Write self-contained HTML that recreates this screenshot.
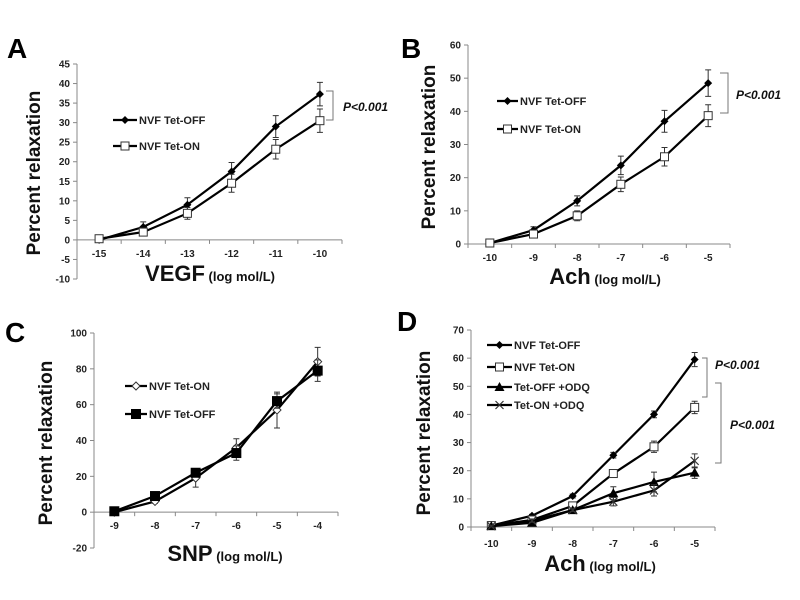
<!DOCTYPE html>
<html><head><meta charset="utf-8"><style>
body{margin:0;background:#fff}
svg{display:block;font-family:"Liberation Sans",Arial,sans-serif}
</style></head><body>
<svg id="fig" width="800" height="600" viewBox="0 0 800 600"></svg>
<script>
const xCatsA=["-15","-14","-13","-12","-11","-10"];
const aOff=[0,3.3,9,17.5,29,37.3];
const aOffErr=[0.5,1.3,1.8,2.3,2.8,3];
const aOn=[0.3,2,6.8,14.5,23.2,30.5];
const aOnErr=[0.3,0.5,1.5,2.3,2.5,3];
const yTicksA=[-10,-5,0,5,10,15,20,25,30,35,40,45];

const xCatsB=["-10","-9","-8","-7","-6","-5"];
const bOff=[0.3,4.2,13,23.7,37,48.5];
const bOffErr=[0.3,1,1.5,2.8,3.3,4];
const bOn=[0.3,3,8.5,18,26.3,38.7];
const bOnErr=[0.3,0.5,1.5,2.2,2.8,3.3];
const yTicksB=[0,10,20,30,40,50,60];

const xCatsC=["-9","-8","-7","-6","-5","-4"];
const cOn=[0,6,19,36,57,84];
const cOnErr=[0,1,5,5,10,8];
const cOff=[0.5,9,22,33,62,79];
const cOffErr=[0,1,2,4,4,6];
const yTicksC=[-20,0,20,40,60,80,100];

const xCatsD=["-10","-9","-8","-7","-6","-5"];
const dOff=[0.5,4,11,25.5,40,59.5];
const dOffErr=[0.3,0.5,0.7,1,1.2,2.5];
const dOn=[0.5,2.5,7.5,19,28.5,42.5];
const dOnErr=[0.3,0.5,0.5,1,2,2.2];
const dOffOdq=[0.3,1.5,6,12,16,19.3];
const dOffOdqErr=[0.3,0.5,0.5,2.3,3.5,2];
const dOnOdq=[0.3,2.2,6,9,13,23.5];
const dOnOdqErr=[0.3,0.5,0.5,1.5,2,2.5];
const yTicksD=[0,10,20,30,40,50,60,70];

const NS="http://www.w3.org/2000/svg";
const svg=document.getElementById('fig');
function el(tag,attrs,parent,text){const e=document.createElementNS(NS,tag);for(const k in attrs)e.setAttribute(k,attrs[k]);if(text!==undefined)e.textContent=text;(parent||svg).appendChild(e);return e;}

function marker(g,type,x,y){
  let m;
  if(type==='fdiamond'){m=el('polygon',{points:`${x},${y-4} ${x+4},${y} ${x},${y+4} ${x-4},${y}`,fill:'#000'},g);}
  else if(type==='odiamond'){m=el('polygon',{points:`${x},${y-4} ${x+4},${y} ${x},${y+4} ${x-4},${y}`,fill:'#fff',stroke:'#333','stroke-width':1},g);}
  else if(type==='osquare'){m=el('rect',{x:x-4,y:y-4,width:8,height:8,fill:'#fff',stroke:'#333','stroke-width':1},g);}
  else if(type==='fsquare'){m=el('rect',{x:x-5,y:y-5,width:10,height:10,fill:'#000'},g);}
  else if(type==='triangle'){m=el('polygon',{points:`${x},${y-5} ${x+5},${y+4} ${x-5},${y+4}`,fill:'#000'},g);}
  else if(type==='cross'){m=el('path',{d:`M${x-4},${y-4}L${x+4},${y+4}M${x-4},${y+4}L${x+4},${y-4}`,stroke:'#333','stroke-width':1.2,fill:'none'},g);}
  
  
  return m;
}

function panel(o){
  const g=el('g',{});
  const ymin=o.yTicks[0],ymax=o.yTicks[o.yTicks.length-1];
  const ys=v=>o.yBot+(v-ymin)/(ymax-ymin)*(o.yTop-o.yBot);
  const n=o.cats.length;
  const band=(o.axisEnd-o.axisX)/n;
  const xs=i=>o.axisX+band*(i+0.5);
  const y0=ys(0);
  // y axis
  el('line',{x1:o.axisX,y1:o.yTop,x2:o.axisX,y2:o.yBot,stroke:'#888','stroke-width':1,},g);
  o.yTicks.forEach(t=>{
    const y=ys(t);
    el('line',{x1:o.axisX-4,y1:y,x2:o.axisX,y2:y,stroke:'#888'},g);
    el('text',{x:o.axisX-7,y:y+3.5,'text-anchor':'end','font-size':10,'font-weight':'bold',fill:'#222',},g,String(t));
  });
  // x axis
  el('line',{x1:o.axisX,y1:y0,x2:o.axisEnd,y2:y0,stroke:'#888',},g);
  for(let i=0;i<=n;i++){const x=o.axisX+band*i;el('line',{x1:x,y1:y0,x2:x,y2:y0+4,stroke:'#888'},g);}
  o.cats.forEach((c,i)=>{
    el('text',{x:xs(i),y:o.tickY,'text-anchor':'middle','font-size':10,'font-weight':'bold',fill:'#222',},g,c);
  });
  // titles
  const xt=el('text',{x:o.xTitleX,y:o.xTitleY,'text-anchor':'middle','font-weight':'bold',fill:'#111',},g);
  const t1=el('tspan',{'font-size':22},xt,o.xTitle);
  const t2=el('tspan',{'font-size':13},xt,' (log mol/L)');
  el('text',{x:0,y:0,transform:`translate(${o.yTitleX},${o.yTitleY}) rotate(-90)`,'text-anchor':'middle','font-size':19,'font-weight':'bold',fill:'#111',},g,'Percent relaxation');
  el('text',{x:o.labelX,y:o.labelY,'font-size':28,'font-weight':'bold',fill:'#000',},g,o.label);
  // series
  o.series.forEach(s=>{
    const sg=el('g',{},g);
    const pts=s.vals.map((v,i)=>xs(i)+','+ys(v)).join(' ');
    const line=el('polyline',{points:pts,fill:'none',stroke:'#000','stroke-width':2.2},sg);
    
    
    s.vals.forEach((v,i)=>{
      const e=s.err[i];
      if(e>0){
        const x=xs(i),ya=ys(v+e),yb=ys(v-e);
        const eb=el('path',{d:`M${x},${ya}L${x},${yb}M${x-3},${ya}L${x+3},${ya}M${x-3},${yb}L${x+3},${yb}`,stroke:'#333','stroke-width':1,fill:'none'},sg);
        
        
      }
      marker(sg,s.marker,xs(i),ys(v));
    });
  });
  // legend
  o.legend.forEach((L,k)=>{
    const lg=el('g',{},g);
    el('line',{x1:L.x1,y1:L.y,x2:L.x2,y2:L.y,stroke:'#000','stroke-width':2.2},lg);
    marker(lg,o.series[k].marker,(L.x1+L.x2)/2,L.y);
    el('text',{x:L.x2+2,y:L.y+4,'font-size':11,'font-weight':'bold',fill:'#222'},lg,o.series[k].label);
  });
  // brackets
  o.brackets.forEach(b=>{
    const bg=el('g',{},g);
    el('path',{d:`M${b.x1},${b.y1}L${b.x2},${b.y1}L${b.x2},${b.y2}L${b.x1},${b.y2}`,fill:'none',stroke:'#777','stroke-width':1},bg);
    el('text',{x:b.tx,y:b.ty,'font-size':12,'font-weight':'bold','font-style':'italic',fill:'#111'},bg,'P<0.001');
  });
}

panel({name:'panel-a',label:'A',labelX:7,labelY:58,cats:xCatsA,yTicks:yTicksA,axisX:77,axisEnd:342,yTop:64,yBot:279,tickY:257,
  xTitle:'VEGF',xTitleX:210,xTitleY:281,yTitleX:40,yTitleY:173,
  series:[{name:'series-tet-off',label:'NVF Tet-OFF',vals:aOff,err:aOffErr,marker:'fdiamond'},
          {name:'series-tet-on',label:'NVF Tet-ON',vals:aOn,err:aOnErr,marker:'osquare'}],
  legend:[{x1:113,x2:137,y:120},{x1:113,x2:137,y:146}],
  brackets:[{x1:326,x2:333,y1:91,y2:120,tx:343,ty:111}]});

panel({name:'panel-b',label:'B',labelX:401,labelY:58,cats:xCatsB,yTicks:yTicksB,axisX:468,axisEnd:730,yTop:45,yBot:244,tickY:261,
  xTitle:'Ach',xTitleX:605,xTitleY:284,yTitleX:435,yTitleY:147,
  series:[{name:'series-tet-off',label:'NVF Tet-OFF',vals:bOff,err:bOffErr,marker:'fdiamond'},
          {name:'series-tet-on',label:'NVF Tet-ON',vals:bOn,err:bOnErr,marker:'osquare'}],
  legend:[{x1:497,x2:518,y:101},{x1:497,x2:518,y:129}],
  brackets:[{x1:720,x2:728,y1:73,y2:113,tx:736,ty:99}]});

panel({name:'panel-c',label:'C',labelX:5,labelY:342,cats:xCatsC,yTicks:yTicksC,axisX:94,axisEnd:338,yTop:333,yBot:548,tickY:529,
  xTitle:'SNP',xTitleX:225,xTitleY:561,yTitleX:52,yTitleY:443,
  series:[{name:'series-tet-on',label:'NVF Tet-ON',vals:cOn,err:cOnErr,marker:'odiamond'},
          {name:'series-tet-off',label:'NVF Tet-OFF',vals:cOff,err:cOffErr,marker:'fsquare'}],
  legend:[{x1:125,x2:147,y:386},{x1:125,x2:147,y:414}],
  brackets:[]});

panel({name:'panel-d',label:'D',labelX:397,labelY:331,cats:xCatsD,yTicks:yTicksD,axisX:471,axisEnd:715,yTop:330,yBot:527,tickY:547,
  xTitle:'Ach',xTitleX:600,xTitleY:571,yTitleX:430,yTitleY:433,
  series:[{name:'series-tet-off',label:'NVF Tet-OFF',vals:dOff,err:dOffErr,marker:'fdiamond'},
          {name:'series-tet-on',label:'NVF Tet-ON',vals:dOn,err:dOnErr,marker:'osquare'},
          {name:'series-tet-off-odq',label:'Tet-OFF +ODQ',vals:dOffOdq,err:dOffOdqErr,marker:'triangle'},
          {name:'series-tet-on-odq',label:' Tet-ON +ODQ',vals:dOnOdq,err:dOnOdqErr,marker:'cross'}],
  legend:[{x1:487,x2:512,y:345},{x1:487,x2:512,y:367},{x1:487,x2:512,y:387},{x1:487,x2:512,y:405}],
  brackets:[{x1:702,x2:707,y1:358,y2:397,tx:715,ty:369},{x1:715,x2:721,y1:383,y2:463,tx:730,ty:429}]});
</script>
</body></html>
